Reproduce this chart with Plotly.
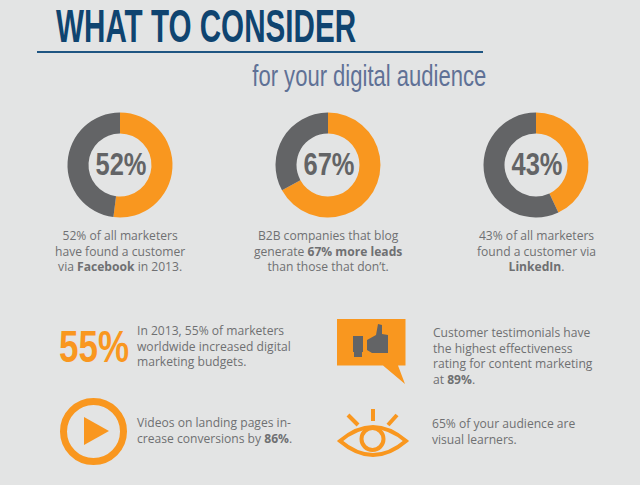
import json
import plotly.graph_objects as go

W, H = 640, 485
BG = '#e3e4e4'
ORANGE = '#f9971f'
GREY = '#636466'
TEXT = '#6f7072'
NAVY = '#0f4470'
BODY_FONT = 'Open Sans'
HEAD_FONT = 'Liberation Sans'

# donut charts
donut_values = [52, 67, 43]
donut_labels = ['52%', '67%', '43%']
donut_centers = [(120, 165), (328, 165), (536, 165)]
donut_radius = 52.5
donut_captions = [
    '52% of all marketers<br>have found a customer<br>via <b>Facebook</b> in 2013.',
    'B2B companies that blog<br>generate <b>67% more leads</b><br>than those that don’t.',
    '43% of all marketers<br>found a customer via<br><b>LinkedIn</b>.',
]

# no condensed face is installed, so these get squeezed to their width in the page
squeezed_widths = {
    'WHAT TO CONSIDER': 300,
    'for your digital audience': 234,
    '52%': 51, '67%': 51, '43%': 51,
    '55%': 70,
}

fig = go.Figure()

for val, (cx, cy) in zip(donut_values, donut_centers):
    fig.add_trace(go.Pie(
        values=[val, 100 - val],
        marker=dict(colors=[ORANGE, GREY], line=dict(width=0)),
        hole=0.6, sort=False, direction='clockwise', rotation=0,
        textinfo='none', hoverinfo='skip', showlegend=False,
        domain=dict(x=[(cx - donut_radius) / W, (cx + donut_radius) / W],
                    y=[1 - (cy + donut_radius) / H, 1 - (cy - donut_radius) / H]),
    ))


def add_text(x, y, text, size, color=TEXT, family=BODY_FONT, anchor='left', align='left'):
    fig.add_annotation(x=x, y=y, text=text, showarrow=False, xref='x', yref='y',
                       xanchor=anchor, yanchor='middle', align=align,
                       font=dict(size=size, color=color, family=family))


for label, (cx, cy) in zip(donut_labels, donut_centers):
    add_text(cx + 0.5, cy - 1, '<b>%s</b>' % label, 32, GREY, HEAD_FONT, 'center', 'center')

for cap, (cx, cy) in zip(donut_captions, donut_centers):
    add_text(cx, 251, cap, 12.1, TEXT, BODY_FONT, 'center', 'center')

# heading
add_text(206, 25.5, '<b>WHAT TO CONSIDER</b>', 47, NAVY, HEAD_FONT, 'center', 'center')
add_text(369, 75, 'for your digital audience', 30, '#5f7196', HEAD_FONT, 'center', 'center')

# side notes
add_text(93.5, 346, '<b>55%</b>', 45, ORANGE, HEAD_FONT, 'center', 'center')
add_text(135, 346, 'In 2013, 55% of marketers<br>worldwide increased digital<br>marketing budgets.', 12.1)
add_text(135, 430, 'Videos on landing pages in-<br>crease conversions by <b>86%</b>.', 12.1)
add_text(431, 355.5, 'Customer testimonials have<br>the highest effectiveness<br>rating for content marketing<br>at <b>89%</b>.', 12.1)
add_text(430, 431, '65% of your audience are<br>visual learners.', 12.1)

shapes = [
    # rule under heading
    dict(type='line', x0=37, x1=483, y0=52, y1=52, line=dict(color='#1f5582', width=2)),
    # play icon
    dict(type='circle', x0=63.5, x1=123.5, y0=401.5, y1=461.5, line=dict(color=ORANGE, width=7)),
    dict(type='path', path='M84,417 L109,431 L84,445 Z', fillcolor=ORANGE, line=dict(width=0)),
    # speech bubble
    dict(type='path', path='M337,319 L405.5,319 L405.5,365.5 L398,365.5 L405,384 L383,365.5 L337,365.5 Z',
         fillcolor=ORANGE, line=dict(width=0)),
    # thumb up
    dict(type='path', path='M353,336 L363,336 L363,352 L362,352 L362,357 L354,357 L354,352 L353,352 Z',
         fillcolor=GREY, line=dict(width=0)),
    dict(type='path', path='M367,340 L376,335 L378,324 L382,325 L382,334 L388,335 L388,353 L372,353 L367,350 Z',
         fillcolor=GREY, line=dict(width=0)),
    # eye
    dict(type='path', path='M340,441 Q373,413 406,441 Q373,469 340,441 Z',
         line=dict(color=ORANGE, width=4)),
    dict(type='circle', x0=361.5, x1=383.5, y0=428, y1=450, line=dict(color=ORANGE, width=4)),
    dict(type='line', x0=373, x1=373, y0=409, y1=421, line=dict(color=ORANGE, width=4)),
    dict(type='line', x0=348, x1=358, y0=415, y1=425, line=dict(color=ORANGE, width=4)),
    dict(type='line', x0=397, x1=388, y0=415, y1=425, line=dict(color=ORANGE, width=4)),
]

fig.update_layout(
    width=W, height=H,
    margin=dict(l=0, r=0, t=0, b=0),
    paper_bgcolor=BG, plot_bgcolor=BG,
    showlegend=False,
    shapes=shapes,
    xaxis=dict(range=[0, W], visible=False, fixedrange=True),
    yaxis=dict(range=[H, 0], visible=False, fixedrange=True),
)

post_script = """
document.body.style.margin = '0';
var widths = %s;
document.querySelectorAll('.annotation-text').forEach(function (el) {
    var w = widths[el.textContent];
    if (w) {
        el.setAttribute('textLength', w);
        el.setAttribute('lengthAdjust', 'spacingAndGlyphs');
    }
});
""" % json.dumps(squeezed_widths)

fig.write_html("out.html", config=dict(displayModeBar=False), post_script=post_script)
